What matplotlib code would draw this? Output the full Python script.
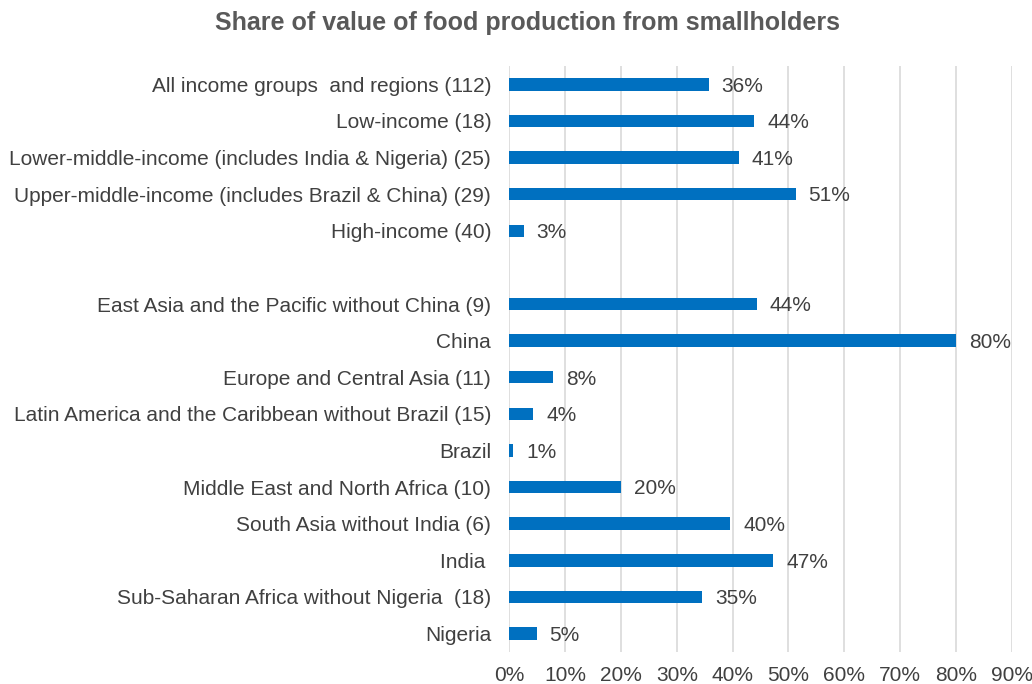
import matplotlib
matplotlib.use("Agg")
import matplotlib.pyplot as plt
import numpy as np

plt.rcParams['font.family'] = ['Liberation Sans', 'DejaVu Sans']

title = "Share of value of food production from smallholders"
categories = [
    "All income groups  and regions (112)",
    "Low-income (18)",
    "Lower-middle-income (includes India & Nigeria) (25)",
    "Upper-middle-income (includes Brazil & China) (29)",
    "High-income (40)",
    "",
    "East Asia and the Pacific without China (9)",
    "China",
    "Europe and Central Asia (11)",
    "Latin America and the Caribbean without Brazil (15)",
    "Brazil",
    "Middle East and North Africa (10)",
    "South Asia without India (6)",
    "India ",
    "Sub-Saharan Africa without Nigeria  (18)",
    "Nigeria",
]
values = [35.7, 43.9, 41.1, 51.3, 2.6, np.nan,
          44.3, 80.0, 7.8, 4.3, 0.7, 20.0, 39.6, 47.3, 34.6, 4.9]
xticks = [0, 10, 20, 30, 40, 50, 60, 70, 80, 90]

BAR = "#0070C0"
TXT = "#404040"
GRID = "#D9D9D9"

fig = plt.figure(figsize=(10.32, 6.84), dpi=100)
ax = fig.add_axes([0.4935, 0.047, 0.9803 - 0.4935, 0.9035 - 0.047])

y = np.arange(len(categories))
vals = np.array(values, dtype=float)
mask = ~np.isnan(vals)
ax.barh(y[mask], vals[mask], height=0.34, color=BAR, zorder=3)

for yi, v in zip(y[mask], vals[mask]):
    ax.text(v + 2.3, yi + 0.05, f"{v:.0f}%", va="center", ha="left",
            fontsize=15, color=TXT, zorder=4)

ax.set_ylim(len(categories) - 0.5, -0.5)
ax.set_xlim(0, 90)
ax.set_yticks(y)
ax.set_yticklabels(categories, fontsize=15, color=TXT)
ax.set_xticks(xticks)
ax.set_xticklabels([f"{t}%" for t in xticks], fontsize=15, color=TXT)
ax.tick_params(axis="both", length=0)
ax.tick_params(axis="y", pad=13)
ax.tick_params(axis="x", pad=10)
ax.grid(axis="x", color=GRID, linewidth=1.2, zorder=0)
for s in ax.spines.values():
    s.set_visible(False)

fig.text(0.5107, 0.966, title, ha="center", va="center", fontsize=18,
         fontweight="bold", color="#595959")

fig.savefig("out.png", dpi=100, facecolor="white")
